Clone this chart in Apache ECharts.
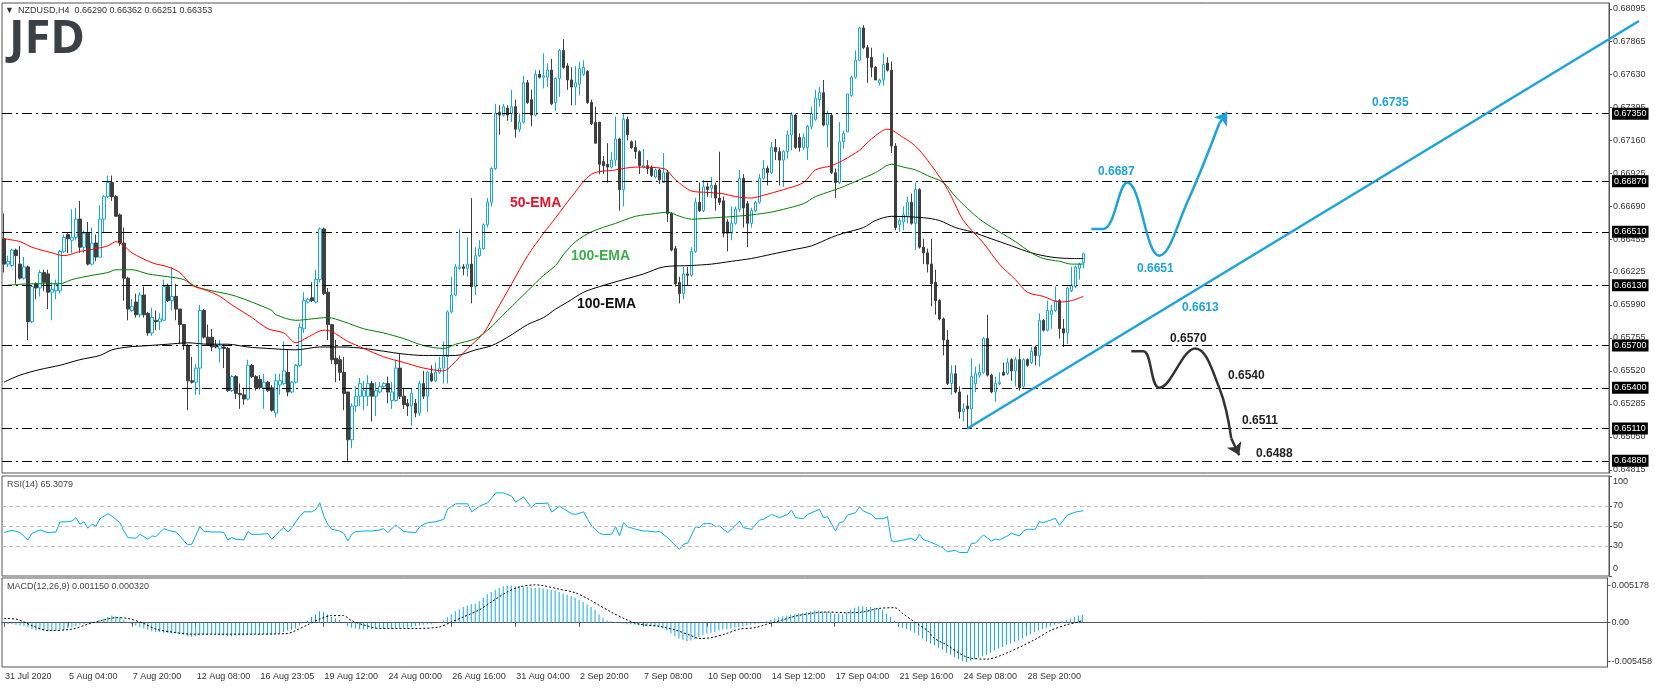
<!DOCTYPE html>
<html><head><meta charset="utf-8">
<script src="https://cdn.jsdelivr.net/npm/echarts@6/dist/echarts.min.js"></script>
<style>html,body{margin:0;padding:0;background:#fff}#c{width:1655px;height:688px}</style>
</head><body><div id="c"></div>
<script>
const FONT = 'Liberation Sans';
const timeLabels = ['31 Jul 2020','5 Aug 04:00','7 Aug 20:00','12 Aug 08:00','16 Aug 23:05','19 Aug 12:00','24 Aug 00:00','26 Aug 16:00','31 Aug 04:00','2 Sep 20:00','7 Sep 08:00','10 Sep 00:00','14 Sep 12:00','17 Sep 04:00','21 Sep 16:00','24 Sep 08:00','28 Sep 20:00'];
const barsPerLabel = 16;
const slotCount = 402;      // bar slots inside the chart frame
const drawSlotCount = 413;  // slots reaching into the price-scale margin (for hand-drawn lines)

// [open, close, low, high]
const ohlc = [
[0.6646,0.6628,0.6622,0.6664],[0.6628,0.6630,0.6626,0.6634],[0.6627,0.6638,0.6626,0.6639],[0.6638,0.6634,0.6614,0.6639],[0.6628,0.6618,0.6617,0.6641],
[0.6618,0.6626,0.6617,0.6633],[0.6626,0.6587,0.6574,0.6627],[0.6587,0.6612,0.6586,0.6613],[0.6614,0.6611,0.6603,0.6615],[0.6611,0.6622,0.6605,0.6624],
[0.6622,0.6615,0.6609,0.6624],[0.6621,0.6608,0.6596,0.6624],[0.6608,0.6610,0.6588,0.6615],[0.6609,0.6614,0.6603,0.6617],[0.6609,0.6637,0.6607,0.6638],
[0.6637,0.6647,0.6636,0.6649],[0.6649,0.6646,0.6636,0.6650],[0.6645,0.6647,0.6636,0.6667],[0.6647,0.6660,0.6645,0.6668],[0.6660,0.6640,0.6636,0.6673],
[0.6640,0.6650,0.6636,0.6652],[0.6650,0.6628,0.6627,0.6658],[0.6628,0.6643,0.6627,0.6654],[0.6643,0.6633,0.6630,0.6649],[0.6633,0.6660,0.6633,0.6670],
[0.6660,0.6676,0.6650,0.6677],[0.6676,0.6686,0.6675,0.6691],[0.6686,0.6676,0.6673,0.6691],[0.6676,0.6662,0.6662,0.6677],[0.6663,0.6643,0.6641,0.6664],
[0.6643,0.6618,0.6602,0.6654],[0.6618,0.6596,0.6588,0.6619],[0.6595,0.6598,0.6594,0.6603],[0.6601,0.6592,0.6590,0.6607],[0.6592,0.6606,0.6590,0.6608],
[0.6606,0.6592,0.6590,0.6612],[0.6593,0.6579,0.6577,0.6594],[0.6579,0.6590,0.6577,0.6597],[0.6588,0.6587,0.6581,0.6595],[0.6587,0.6589,0.6581,0.6593],
[0.6588,0.6612,0.6588,0.6617],[0.6612,0.6602,0.6601,0.6614],[0.6602,0.6605,0.6595,0.6626],[0.6605,0.6596,0.6588,0.6614],[0.6596,0.6585,0.6571,0.6596],
[0.6585,0.6571,0.6567,0.6585],[0.6570,0.6545,0.6524,0.6571],[0.6545,0.6544,0.6543,0.6562],[0.6544,0.6554,0.6535,0.6557],[0.6554,0.6595,0.6535,0.6599],
[0.6595,0.6576,0.6575,0.6596],[0.6576,0.6571,0.6570,0.6585],[0.6576,0.6569,0.6566,0.6582],[0.6570,0.6569,0.6568,0.6574],[0.6568,0.6570,0.6558,0.6574],
[0.6569,0.6568,0.6554,0.6571],[0.6568,0.6538,0.6537,0.6569],[0.6538,0.6548,0.6537,0.6549],[0.6548,0.6536,0.6532,0.6549],[0.6536,0.6535,0.6525,0.6543],
[0.6535,0.6532,0.6528,0.6540],[0.6532,0.6556,0.6531,0.6560],[0.6556,0.6548,0.6547,0.6557],[0.6548,0.6540,0.6538,0.6549],[0.6546,0.6540,0.6539,0.6549],
[0.6540,0.6544,0.6525,0.6550],[0.6544,0.6538,0.6537,0.6545],[0.6540,0.6524,0.6523,0.6542],[0.6522,0.6545,0.6519,0.6550],
[0.6542,0.6545,0.6535,0.6550],[0.6543,0.6552,0.6542,0.6573],[0.6551,0.6537,0.6534,0.6567],[0.6537,0.6544,0.6536,0.6545],[0.6544,0.6556,0.6543,0.6557],
[0.6556,0.6583,0.6555,0.6586],[0.6582,0.6602,0.6579,0.6608],[0.6601,0.6603,0.6600,0.6604],[0.6604,0.6602,0.6601,0.6615],[0.6601,0.6617,0.6600,0.6624],
[0.6617,0.6653,0.6615,0.6654],[0.6653,0.6607,0.6606,0.6654],[0.6608,0.6585,0.6574,0.6611],[0.6585,0.6560,0.6557,0.6585],[0.6561,0.6557,0.6544,0.6574],
[0.6560,0.6551,0.6545,0.6563],[0.6551,0.6536,0.6524,0.6562],[0.6537,0.6503,0.6488,0.6537],[0.6503,0.6527,0.6497,0.6529],[0.6527,0.6534,0.6523,0.6541],
[0.6534,0.6543,0.6527,0.6547],[0.6534,0.6538,0.6524,0.6545],[0.6534,0.6543,0.6527,0.6549],[0.6543,0.6534,0.6516,0.6545],[0.6534,0.6538,0.6520,0.6544],
[0.6537,0.6541,0.6536,0.6544],[0.6541,0.6543,0.6540,0.6544],[0.6543,0.6537,0.6529,0.6548],[0.6531,0.6537,0.6525,0.6544],[0.6531,0.6554,0.6530,0.6560],
[0.6554,0.6534,0.6532,0.6564],[0.6534,0.6528,0.6525,0.6540],[0.6529,0.6527,0.6520,0.6532],[0.6527,0.6536,0.6513,0.6540],[0.6529,0.6522,0.6519,0.6532],
[0.6522,0.6543,0.6520,0.6545],[0.6543,0.6534,0.6532,0.6552],[0.6534,0.6551,0.6523,0.6552],[0.6550,0.6545,0.6544,0.6556],[0.6545,0.6551,0.6544,0.6558],
[0.6551,0.6554,0.6550,0.6562],[0.6554,0.6562,0.6543,0.6573],[0.6562,0.6594,0.6543,0.6595],[0.6594,0.6606,0.6593,0.6619],[0.6606,0.6626,0.6605,0.6628],
[0.6625,0.6626,0.6624,0.6653],[0.6626,0.6625,0.6620,0.6628],[0.6625,0.6628,0.6619,0.6647],[0.6628,0.6612,0.6600,0.6675],[0.6612,0.6634,0.6606,0.6640],
[0.6634,0.6639,0.6633,0.6645],[0.6639,0.6656,0.6638,0.6657],[0.6656,0.6672,0.6654,0.6675],[0.6672,0.6696,0.6669,0.6697],[0.6696,0.6735,0.6695,0.6742],
[0.6736,0.6734,0.6720,0.6741],[0.6734,0.6740,0.6733,0.6742],[0.6739,0.6734,0.6730,0.6741],[0.6735,0.6740,0.6729,0.6752],[0.6740,0.6724,0.6718,0.6745],
[0.6724,0.6729,0.6722,0.6735],[0.6729,0.6757,0.6728,0.6762],[0.6757,0.6743,0.6742,0.6759],[0.6745,0.6734,0.6726,0.6752],[0.6734,0.6763,0.6733,0.6766],
[0.6763,0.6761,0.6760,0.6766],[0.6761,0.6762,0.6753,0.6778],[0.6761,0.6766,0.6754,0.6771],[0.6766,0.6742,0.6741,0.6774],
[0.6743,0.6760,0.6737,0.6761],[0.6760,0.6780,0.6747,0.6781],[0.6780,0.6768,0.6767,0.6788],[0.6769,0.6759,0.6752,0.6771],[0.6759,0.6754,0.6741,0.6768],
[0.6754,0.6757,0.6741,0.6769],[0.6756,0.6767,0.6748,0.6772],[0.6763,0.6768,0.6762,0.6773],[0.6765,0.6743,0.6742,0.6766],[0.6743,0.6728,0.6727,0.6745],
[0.6729,0.6714,0.6714,0.6740],[0.6729,0.6699,0.6692,0.6729],[0.6701,0.6698,0.6692,0.6705],[0.6699,0.6697,0.6686,0.6714],[0.6697,0.6702,0.6696,0.6708],
[0.6702,0.6717,0.6698,0.6733],[0.6717,0.6681,0.6666,0.6718],[0.6681,0.6731,0.6669,0.6735],[0.6731,0.6720,0.6716,0.6733],[0.6715,0.6711,0.6710,0.6716],
[0.6711,0.6708,0.6703,0.6716],[0.6708,0.6698,0.6692,0.6709],[0.6697,0.6698,0.6696,0.6710],[0.6698,0.6696,0.6692,0.6702],[0.6697,0.6691,0.6690,0.6698],
[0.6690,0.6695,0.6689,0.6696],[0.6695,0.6688,0.6685,0.6696],[0.6686,0.6693,0.6686,0.6707],[0.6693,0.6664,0.6658,0.6695],[0.6664,0.6638,0.6637,0.6665],
[0.6639,0.6614,0.6612,0.6641],[0.6615,0.6607,0.6600,0.6619],[0.6607,0.6621,0.6603,0.6626],[0.6621,0.6620,0.6613,0.6626],[0.6620,0.6637,0.6619,0.6640],
[0.6637,0.6672,0.6636,0.6675],[0.6672,0.6666,0.6665,0.6686],[0.6666,0.6683,0.6665,0.6688],[0.6683,0.6681,0.6676,0.6686],[0.6682,0.6684,0.6675,0.6690],
[0.6684,0.6675,0.6666,0.6686],[0.6675,0.6672,0.6670,0.6708],[0.6673,0.6650,0.6647,0.6676],[0.6658,0.6650,0.6637,0.6660],[0.6650,0.6657,0.6645,0.6669],
[0.6657,0.6667,0.6656,0.6669],[0.6667,0.6689,0.6665,0.6695],[0.6689,0.6668,0.6654,0.6692],[0.6671,0.6657,0.6640,0.6673],[0.6657,0.6666,0.6654,0.6668],
[0.6666,0.6672,0.6665,0.6673],[0.6672,0.6689,0.6671,0.6692],[0.6689,0.6696,0.6688,0.6702],[0.6696,0.6693,0.6684,0.6698],[0.6693,0.6711,0.6692,0.6715],
[0.6711,0.6708,0.6702,0.6717],[0.6708,0.6702,0.6684,0.6711],[0.6702,0.6708,0.6683,0.6709],[0.6708,0.6720,0.6703,0.6723],[0.6720,0.6734,0.6709,0.6736],
[0.6734,0.6711,0.6710,0.6735],[0.6718,0.6711,0.6708,0.6721],[0.6711,0.6718,0.6709,0.6721],[0.6711,0.6726,0.6702,0.6727],[0.6726,0.6735,0.6724,0.6740],
[0.6731,0.6746,0.6730,0.6752],[0.6745,0.6750,0.6740,0.6754],[0.6750,0.6727,0.6726,0.6759],[0.6727,0.6735,0.6711,0.6737],
[0.6734,0.6693,0.6692,0.6735],[0.6693,0.6686,0.6675,0.6696],[0.6686,0.6715,0.6685,0.6729],[0.6715,0.6721,0.6710,0.6723],[0.6722,0.6749,0.6722,0.6749],
[0.6748,0.6761,0.6747,0.6762],[0.6761,0.6773,0.6760,0.6780],[0.6773,0.6796,0.6773,0.6797],[0.6796,0.6782,0.6781,0.6798],[0.6782,0.6775,0.6757,0.6784],
[0.6775,0.6768,0.6761,0.6782],[0.6768,0.6759,0.6759,0.6769],[0.6757,0.6759,0.6755,0.6760],[0.6759,0.6770,0.6755,0.6778],[0.6771,0.6766,0.6765,0.6775],
[0.6766,0.6712,0.6707,0.6772],[0.6712,0.6654,0.6652,0.6714],[0.6656,0.6659,0.6651,0.6661],[0.6658,0.6663,0.6652,0.6669],[0.6662,0.6672,0.6657,0.6676],
[0.6672,0.6657,0.6656,0.6678],[0.6657,0.6681,0.6638,0.6686],[0.6681,0.6640,0.6639,0.6682],[0.6640,0.6636,0.6628,0.6646],[0.6636,0.6628,0.6622,0.6639],
[0.6628,0.6614,0.6598,0.6646],[0.6615,0.6602,0.6592,0.6624],[0.6602,0.6589,0.6588,0.6603],[0.6589,0.6574,0.6563,0.6590],[0.6574,0.6543,0.6542,0.6581],
[0.6543,0.6550,0.6535,0.6556],[0.6550,0.6537,0.6536,0.6556],[0.6537,0.6523,0.6518,0.6541],[0.6523,0.6525,0.6516,0.6529],[0.6527,0.6525,0.6511,0.6535],
[0.6525,0.6548,0.6511,0.6561],[0.6543,0.6550,0.6537,0.6555],[0.6549,0.6551,0.6547,0.6557],[0.6551,0.6575,0.6550,0.6576],[0.6575,0.6549,0.6548,0.6592],
[0.6549,0.6537,0.6536,0.6550],[0.6537,0.6543,0.6530,0.6548],[0.6543,0.6544,0.6542,0.6551],[0.6551,0.6549,0.6549,0.6558],[0.6550,0.6558,0.6549,0.6561],
[0.6560,0.6552,0.6545,0.6561],[0.6552,0.6560,0.6541,0.6562],[0.6560,0.6540,0.6538,0.6568],[0.6541,0.6560,0.6540,0.6561],[0.6560,0.6556,0.6555,0.6561],
[0.6558,0.6566,0.6557,0.6569],[0.6569,0.6563,0.6556,0.6570],[0.6563,0.6588,0.6555,0.6593],[0.6588,0.6581,0.6580,0.6589],[0.6581,0.6595,0.6580,0.6602],
[0.6592,0.6595,0.6582,0.6599],[0.6595,0.6602,0.6594,0.6612],[0.6602,0.6582,0.6575,0.6603],[0.6582,0.6579,0.6569,0.6589],[0.6579,0.6611,0.6571,0.6612],
[0.6609,0.6613,0.6608,0.6626],[0.6612,0.6626,0.6611,0.6627],[0.6625,0.6628,0.6617,0.6629],[0.6629,0.66353,0.66251,0.66362]
];

const ema50 = [[0,0.6646],[4,0.6644],[7,0.6640],[12,0.6636],[15,0.6634],[19,0.6637],[23,0.6639],[26,0.6641],[28,0.6644],[30,0.6641],[32,0.6636],[37,0.6629],[41,0.6626],[44,0.6622],[47,0.6613],[51,0.6609],[54,0.6605],[57,0.6599],[62,0.6590],[66,0.6582],[70,0.6579],[73,0.6572],[76,0.6576],[80,0.6581],[82,0.6580],[86,0.6573],[90,0.6568],[95,0.6562],[100,0.6558],[105,0.6554],[110,0.6552],[112,0.6556],[116,0.6568],[120,0.6579],[123,0.6594],[127,0.6614],[131,0.6634],[135,0.6650],[138,0.6661],[142,0.6676],[147,0.6692],[153,0.6695],[158,0.6697],[165,0.6696],[168,0.6688],[172,0.6680],[176,0.6679],[180,0.6678],[183,0.6676],[187,0.6675],[190,0.6677],[195,0.6681],[200,0.6686],[203,0.6695],[207,0.6698],[210,0.6702],[214,0.6709],[217,0.6717],[221,0.6724],[225,0.6718],[228,0.6712],[231,0.6702],[235,0.6686],[237,0.6676],[240,0.6659],[245,0.6643],[249,0.6628],[253,0.6617],[256,0.6608],[260,0.6605],[264,0.6601],[267,0.6602],[270,0.6605]];
const ema100 = [[1,0.6613],[7,0.6614],[14,0.6614],[17,0.6617],[22,0.6620],[26,0.6622],[28,0.6624],[32,0.6624],[36,0.6621],[41,0.6619],[45,0.6617],[48,0.6612],[52,0.6609],[57,0.6606],[62,0.6601],[67,0.6595],[68,0.6592],[73,0.6588],[77,0.6589],[81,0.6590],[85,0.6587],[90,0.6582],[95,0.6579],[100,0.6575],[105,0.6570],[110,0.6568],[113,0.6571],[118,0.6575],[121,0.6581],[126,0.6595],[131,0.6609],[135,0.6620],[138,0.6627],[140,0.6635],[143,0.6644],[147,0.6651],[153,0.6657],[158,0.6662],[163,0.6664],[166,0.6665],[169,0.6662],[172,0.6660],[178,0.6661],[183,0.6662],[187,0.6663],[192,0.6665],[195,0.6667],[200,0.6671],[203,0.6676],[207,0.6680],[209,0.6682],[214,0.6688],[218,0.6693],[222,0.6699],[225,0.6697],[228,0.6695],[231,0.6691],[235,0.6686],[238,0.6676],[242,0.6665],[245,0.6658],[249,0.6651],[253,0.6644],[257,0.6636],[260,0.6632],[264,0.6630],[267,0.6628],[270,0.6628]];
const ema200 = [[0,0.6544],[4,0.6549],[9,0.6553],[14,0.6556],[19,0.6560],[24,0.6563],[27,0.6567],[31,0.6569],[36,0.6570],[41,0.6571],[46,0.6572],[51,0.6571],[56,0.6571],[61,0.6569],[66,0.6568],[73,0.6567],[79,0.6569],[85,0.6569],[90,0.6568],[95,0.6566],[100,0.6564],[105,0.6563],[110,0.6563],[113,0.6563],[118,0.6567],[122,0.6570],[126,0.6576],[131,0.6585],[135,0.6590],[138,0.6596],[141,0.6601],[145,0.6608],[149,0.6612],[155,0.6617],[160,0.6621],[165,0.6626],[172,0.6627],[177,0.6628],[182,0.6630],[187,0.6632],[192,0.6635],[197,0.6638],[202,0.6641],[207,0.6647],[210,0.6650],[215,0.6654],[218,0.6659],[222,0.6662],[230,0.6661],[234,0.6659],[238,0.6654],[242,0.6651],[247,0.6646],[252,0.6641],[257,0.6636],[262,0.6633],[267,0.6632],[270,0.6632]];

const rsi = [[0,43.4],[2,45.7],[4,43.4],[6,36.1],[7,42.7],[9,46.0],[11,43.4],[13,44.0],[14,54.0],[16,54.3],[17,55.0],[18,58.3],[19,51.7],[20,54.3],[21,47.7],[22,51.7],[23,50.0],[24,57.3],[26,62.3],[27,59.9],[29,53.3],[30,45.0],[31,38.4],[33,37.7],[34,41.7],[35,39.4],[36,36.8],[37,40.1],[38,39.4],[40,47.4],[41,45.7],[43,44.0],[44,40.1],[45,35.1],[46,31.1],[47,31.8],[49,49.3],[50,44.7],[52,44.0],[54,44.0],[55,43.4],[56,36.1],[57,38.4],[58,36.8],[60,36.1],[61,44.4],[62,41.7],[64,41.7],[66,42.4],[67,36.8],[69,45.0],[70,48.3],[71,44.0],[72,48.3],[74,59.9],[75,64.2],[77,64.2],[78,66.6],[79,73.2],[80,59.9],[81,51.7],[82,46.7],[84,45.0],[85,42.7],[86,35.1],[87,41.7],[88,44.4],[90,45.0],[92,45.0],[94,46.0],[95,47.4],[96,43.4],[98,51.0],[100,44.7],[101,44.0],[103,43.4],[104,49.3],[105,51.7],[106,53.3],[108,54.3],[110,56.6],[111,67.2],[113,72.2],[116,72.2],[117,64.2],[119,69.9],[121,73.2],[123,83.1],[125,83.1],[127,79.8],[128,73.8],[130,79.1],[132,68.2],[133,72.5],[135,72.5],[136,73.2],[137,63.9],[139,69.9],[140,67.2],[142,62.3],[143,61.6],[145,64.2],[146,56.6],[147,50.0],[149,42.7],[150,41.4],[152,41.7],[153,49.3],[154,40.1],[155,53.3],[156,49.3],[158,46.7],[160,45.0],[161,45.0],[163,44.0],[164,44.7],[166,38.4],[168,30.1],[169,26.8],[170,31.8],[171,32.8],[173,49.3],[174,48.3],[175,52.3],[177,52.3],[178,49.3],[179,50.0],[181,43.4],[182,46.7],[184,55.0],[185,48.3],[187,46.7],[189,56.0],[190,56.6],[192,61.6],[193,59.9],[194,58.3],[196,61.6],[197,65.9],[198,58.3],[200,57.3],[201,61.6],[204,66.6],[205,58.3],[206,59.3],[208,45.0],[209,53.3],[210,54.3],[211,60.9],[213,63.2],[214,69.2],[215,64.9],[217,61.6],[218,57.3],[220,57.3],[221,59.3],[222,35.1],[223,34.4],[225,36.1],[227,37.7],[228,35.1],[229,41.7],[230,36.1],[231,35.1],[233,31.8],[235,27.8],[236,24.2],[238,25.8],[239,23.5],[241,23.5],[242,32.8],[243,32.8],[245,41.1],[247,35.1],[248,36.8],[249,36.1],[251,40.1],[252,42.7],[254,40.1],[255,45.0],[256,46.7],[258,46.7],[259,54.3],[260,53.3],[263,57.6],[264,50.7],[266,60.9],[268,63.9],[270,65.3]];

const macdHist = [
-0.0001,-0.0002,-0.0002,-0.0003,-0.0004,-0.0005,-0.0006,-0.0009,-0.0011,-0.0010,
-0.0011,-0.0012,-0.0012,-0.0011,-0.0010,-0.0010,-0.0008,-0.0006,-0.0005,-0.0003,
-0.0002,-0.0001,0.0000,0.0001,0.0003,0.0006,0.0008,0.0010,0.0009,0.0008,
0.0004,0.0001,-0.0002,-0.0004,-0.0006,-0.0008,-0.0010,-0.0012,-0.0013,-0.0013,
-0.0014,-0.0014,-0.0015,-0.0015,-0.0016,-0.0017,-0.0019,-0.0020,-0.0019,-0.0018,
-0.0017,-0.0017,-0.0016,-0.0017,-0.0018,-0.0018,-0.0019,-0.0019,-0.0018,-0.0018,
-0.0018,-0.0017,-0.0017,-0.0016,-0.0016,-0.0016,-0.0017,-0.0017,-0.0016,-0.0015,
-0.0013,-0.0011,-0.0010,-0.0008,-0.0004,0.0000,0.0003,0.0008,0.0012,0.0016,
0.0015,0.0012,0.0008,0.0006,0.0004,0.0000,-0.0005,-0.0007,-0.0008,-0.0009,
-0.0009,-0.0009,-0.0009,-0.0009,-0.0008,-0.0008,-0.0008,-0.0008,-0.0007,-0.0007,
-0.0007,-0.0007,-0.0006,-0.0005,-0.0004,-0.0003,-0.0002,-0.0002,-0.0001,0.0000,
0.0003,0.0008,0.0012,0.0016,0.0019,0.0022,0.0024,0.0026,0.0027,0.0030,
0.0035,0.0040,0.0043,0.0046,0.0049,0.0051,0.0052,0.0052,0.0051,0.0051,
0.0050,0.0050,0.0049,0.0049,0.0049,0.0048,0.0047,0.0046,0.0045,0.0043,
0.0041,0.0039,0.0037,0.0035,0.0032,0.0029,0.0026,0.0022,0.0018,0.0012,
0.0007,0.0003,0.0002,0.0001,0.0000,-0.0001,-0.0002,-0.0002,-0.0003,-0.0004,
-0.0004,-0.0005,-0.0005,-0.0005,-0.0006,-0.0008,-0.0011,-0.0015,-0.0019,-0.0022,
-0.0024,-0.0026,-0.0025,-0.0023,-0.0020,-0.0017,-0.0015,-0.0014,-0.0013,-0.0011,
-0.0010,-0.0009,-0.0008,-0.0007,-0.0006,-0.0005,-0.0004,-0.0003,-0.0002,-0.0001,
0.0000,0.0002,0.0004,0.0006,0.0008,0.0009,0.0010,0.0011,0.0012,0.0013,
0.0014,0.0015,0.0016,0.0017,0.0017,0.0016,0.0015,0.0014,0.0013,0.0013,
0.0012,0.0014,0.0018,0.0021,0.0023,0.0023,0.0022,0.0022,0.0021,0.0020,
0.0018,0.0013,0.0008,0.0003,-0.0004,-0.0007,-0.0009,-0.0011,-0.0014,-0.0018,
-0.0022,-0.0026,-0.0029,-0.0032,-0.0035,-0.0038,-0.0042,-0.0045,-0.0048,-0.0051,
-0.0054,-0.0055,-0.0053,-0.0051,-0.0049,-0.0047,-0.0045,-0.0042,-0.0039,-0.0036,
-0.0034,-0.0031,-0.0029,-0.0027,-0.0025,-0.0022,-0.0019,-0.0016,-0.0013,-0.0011,
-0.0009,-0.0007,-0.0005,-0.0003,-0.0001,0.0002,0.0004,0.0006,0.0008,0.0010,
0.00115
];
const macdSignal = [[0,0.0006],[3,0.0005],[5,0.0001],[7,-0.0004],[11,-0.0011],[17,-0.0009],[21,-0.0002],[25,0.0004],[28,0.0007],[31,0.0006],[35,-0.0001],[38,-0.0009],[42,-0.0013],[47,-0.0016],[53,-0.0016],[62,-0.0016],[71,-0.0015],[73,-0.0011],[76,-0.0003],[79,0.0005],[82,0.0010],[85,0.0010],[87,0.0003],[90,-0.0003],[94,-0.0008],[103,-0.0008],[109,-0.0006],[112,0.0001],[115,0.0008],[119,0.0018],[122,0.0029],[126,0.0043],[129,0.0050],[133,0.0053],[135,0.0052],[139,0.0047],[143,0.0042],[147,0.0031],[152,0.0015],[156,0.0004],[159,-0.0002],[164,-0.0005],[168,-0.0010],[172,-0.0018],[174,-0.0022],[177,-0.0021],[181,-0.0015],[184,-0.0009],[188,-0.0007],[191,-0.0002],[195,0.0004],[198,0.0009],[202,0.0013],[206,0.0015],[211,0.0014],[215,0.0015],[219,0.0020],[223,0.0021],[225,0.0013],[228,0.0001],[231,-0.0010],[233,-0.0022],[236,-0.0031],[241,-0.0048],[246,-0.0051],[250,-0.0045],[258,-0.0024],[262,-0.0011],[266,-0.0003],[269,0.0001],[270,0.00032]];

const priceTicks = [0.68095,0.67865,0.67630,0.67395,0.67160,0.66925,0.66690,0.66455,0.66225,0.65990,0.65755,0.65520,0.65285,0.65050,0.64815];
const levels = [0.6735,0.6687,0.6651,0.6613,0.6570,0.6540,0.6511,0.6488];
const lastPrice = 0.66353;
const headerValues = [0.66290,0.66362,0.66251,0.66353];
const rsiValue = 65.3079;
const macdValues = [0.001150,0.000320];
const rsiTicks = [0,30,50,70,100];
const macdTicks = [-0.005458,0,0.005178];

// hand-drawn annotations (bar index, price)
const trendLine = [[241,0.6511],[409,0.6801]];
const bullPath = [[272,0.6653],[275,0.6653],[281,0.6686],[289,0.6634],[296,0.6672],[304,0.6728]];
const bullArrow = [[304,0.6728],[306,0.6736]];
const bearPath = [[282,0.6566],[285,0.6566],[289,0.6540],[298,0.6568],[304,0.6540],[307,0.6504]];
const bearArrow = [[307,0.6504],[309,0.6492]];
const bullLabels = [['0.6735',1372,103],['0.6687',1098,172],['0.6651',1137,269],['0.6613',1182,308]];
const bearLabels = [['0.6570',1170,339],['0.6540',1228,376],['0.6511',1242,421],['0.6488',1256,454]];

const BLUE = '#1ba3dc';
const catsFor = n => Array.from({length: n}, (_, i) => (i % barsPerLabel === 0 && i / barsPerLabel < timeLabels.length) ? timeLabels[i / barsPerLabel] : '');
const cats = catsFor(slotCount);
const drawCats = catsFor(drawSlotCount);

const slotW = 1607 / slotCount;
const G = [
  {left: 2, width: 1607, top: 3, height: 470},
  {left: 2, width: 1607, top: 476, height: 100},
  {left: 2, width: 1607, top: 578, height: 89}
];
const yMain = {min: 0.68095 - (473 - 9) / 14055, max: 0.68095 + 6 / 14055};

function xa(gi, show, data) {
  const iv = (i, v) => v !== '';
  return {type: 'category', gridIndex: gi, data: data || cats, boundaryGap: true, show: show !== null,
    axisLine: {show: !!show, lineStyle: {color: '#555'}},
    axisTick: {show: !!show, alignWithLabel: true, interval: iv, length: 4, lineStyle: {color: '#555'}},
    axisLabel: {show: !!show, interval: iv, align: 'left', color: '#333', fontSize: 9, fontFamily: FONT, margin: 5, padding: [0, 0, 0, 1]},
    splitLine: {show: false}};
}
function ya(gi, min, max, ticks, fmt, rich) {
  return {type: 'value', gridIndex: gi, position: 'right', min: min, max: max,
    axisLine: {show: true, lineStyle: {color: '#555'}},
    axisTick: {show: true, customValues: ticks, length: 3, lineStyle: {color: '#555'}},
    axisLabel: {customValues: ticks, formatter: fmt, color: '#333', fontSize: 9, fontFamily: FONT, margin: 4, rich: rich || {}},
    splitLine: {show: false}};
}

const gridStyle = {show: true, borderColor: '#555', borderWidth: 1, backgroundColor: '#fff'};

const chart = echarts.init(document.getElementById('c'), null, {renderer: 'canvas'});

const graphics = [];
function txt(t, x, y, font, fill, align) {
  graphics.push({type: 'text', x: x, y: y, z: 100, silent: true,
    style: {text: t, font: font, fill: fill, align: align || 'left', verticalAlign: 'middle', textAlign: align || 'left', textVerticalAlign: 'middle'}});
}
txt('\u25BC', 5, 11, '9px ' + FONT, '#333');
txt('NZDUSD,H4  ' + headerValues.map(v => v.toFixed(5)).join(' '), 18, 11, '9px ' + FONT, '#333');
txt('JFD', 9, 40, 'bold 47px "Open Sans"', '#3b3f46');
txt('RSI(14) ' + rsiValue.toFixed(4), 7, 485, '9px ' + FONT, '#444');
txt('MACD(12,26,9) ' + macdValues.map(v => v.toFixed(6)).join(' '), 7, 587, '9px ' + FONT, '#444');
txt('50-EMA', 510, 203, 'bold 14px ' + FONT, '#e8112d');
txt('100-EMA', 571, 256, 'bold 14px ' + FONT, '#3bb04a');
txt('100-EMA', 577, 304, 'bold 14px ' + FONT, '#111');
bullLabels.forEach(l => txt(l[0], l[1], l[2], 'bold 12px ' + FONT, BLUE));
bearLabels.forEach(l => txt(l[0], l[1], l[2], 'bold 12px ' + FONT, '#222'));

const option = {
  animation: false,
  backgroundColor: '#fff',
  grid: G.map(g => Object.assign({}, g, gridStyle)).concat([{left: 2, top: 3, height: 470, width: slotW * drawSlotCount, show: false}]),
  xAxis: [xa(0, false), xa(1, false), xa(2, true), xa(3, null, drawCats)],
  yAxis: [
    ya(0, yMain.min, yMain.max, priceTicks, v => v.toFixed(5)),
    ya(1, 0, 100, rsiTicks, v => v === 100 ? '{t|100}' : (v === 0 ? '{b|0}' : String(v)),
       {t: {padding: [12, 0, 0, 0], fontSize: 9, color: '#333', fontFamily: FONT}, b: {padding: [0, 0, 14, 0], fontSize: 9, color: '#333', fontFamily: FONT}}),
    ya(2, -0.0062, 0.00626, macdTicks, v => v === 0 ? '0.00' : v.toFixed(6)),
    {type: 'value', gridIndex: 3, min: yMain.min, max: yMain.max, show: false}
  ],
  graphic: graphics,
  series: [
    {type: 'candlestick', xAxisIndex: 0, yAxisIndex: 0, data: ohlc, barWidth: 3, silent: true,
     itemStyle: {color: '#ffffff', color0: '#3f3f3f', borderColor: '#12a9dc', borderColor0: '#3f3f3f', borderWidth: 1},
     markLine: {silent: true, symbol: ['none', 'none'], animation: false, precision: 5,
       lineStyle: {color: '#000', type: [10, 4, 2, 4], width: 1},
       label: {show: true, position: 'end', distance: 3, formatter: p => Number(p.value).toFixed(5), color: '#fff', backgroundColor: '#000', padding: [2, 2, 1, 2], fontSize: 9, fontFamily: FONT},
       data: levels.map(v => ({yAxis: v})).concat([{yAxis: lastPrice, lineStyle: {width: 0, opacity: 0}, label: {backgroundColor: '#505050'}}])}},
    {type: 'line', xAxisIndex: 0, yAxisIndex: 0, data: ema200, symbol: 'none', smooth: 0.3, silent: true, lineStyle: {color: '#000', width: 1}},
    {type: 'line', xAxisIndex: 0, yAxisIndex: 0, data: ema100, symbol: 'none', smooth: 0.3, silent: true, lineStyle: {color: '#008000', width: 1}},
    {type: 'line', xAxisIndex: 0, yAxisIndex: 0, data: ema50, symbol: 'none', smooth: 0.3, silent: true, lineStyle: {color: '#ff0000', width: 1}},
    {type: 'line', xAxisIndex: 3, yAxisIndex: 3, data: trendLine, symbol: 'none', silent: true, z: 5, lineStyle: {color: BLUE, width: 2.5}},
    {type: 'line', xAxisIndex: 3, yAxisIndex: 3, data: bullPath, symbol: 'none', smooth: 0.4, silent: true, z: 5, lineStyle: {color: BLUE, width: 2.5},
     markLine: {silent: true, precision: 5, symbol: ['none', 'arrow'], symbolSize: 12, label: {show: false}, lineStyle: {color: BLUE, width: 2.5, type: 'solid'},
       data: [[{coord: bullArrow[0]}, {coord: bullArrow[1]}]]}},
    {type: 'line', xAxisIndex: 3, yAxisIndex: 3, data: bearPath, symbol: 'none', smooth: 0.4, silent: true, z: 5, lineStyle: {color: '#333', width: 2.5},
     markLine: {silent: true, precision: 5, symbol: ['none', 'arrow'], symbolSize: 12, label: {show: false}, lineStyle: {color: '#333', width: 2.5, type: 'solid'},
       data: [[{coord: bearArrow[0]}, {coord: bearArrow[1]}]]}},
    {type: 'line', xAxisIndex: 1, yAxisIndex: 1, data: rsi, symbol: 'none', silent: true, lineStyle: {color: '#00aee8', width: 1},
     markLine: {silent: true, symbol: ['none', 'none'], label: {show: false}, lineStyle: {color: '#bdbdbd', type: [4, 3], width: 1},
       data: [{yAxis: 70}, {yAxis: 50}, {yAxis: 30}]}},
    {type: 'bar', xAxisIndex: 2, yAxisIndex: 2, data: macdHist, barWidth: 1, silent: true, itemStyle: {color: '#12a9dc'}},
    {type: 'line', xAxisIndex: 2, yAxisIndex: 2, data: macdSignal, symbol: 'none', smooth: 0.3, silent: true, lineStyle: {color: '#000', width: 1, type: [2, 2]}}
  ]
};
chart.setOption(option);
</script>
</body></html>
